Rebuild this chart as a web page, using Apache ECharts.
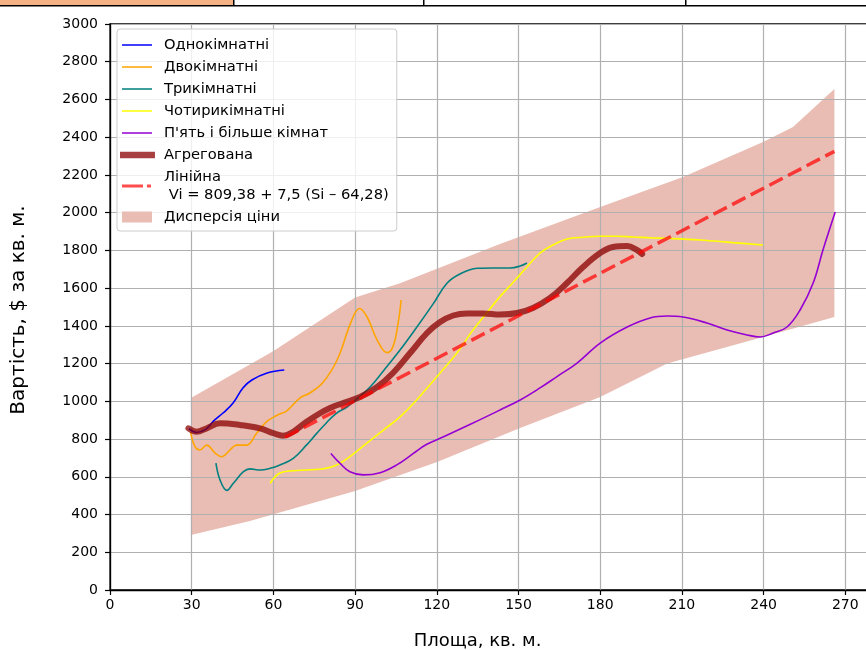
<!DOCTYPE html>
<html><head><meta charset="utf-8">
<script src="https://cdn.jsdelivr.net/npm/echarts@6/dist/echarts.min.js"></script>
<style>html,body{margin:0;padding:0;background:#fff}#chart{width:866px;height:650px}</style>
</head><body><div id="chart"></div>
<script>
// ---- data ----
const xTickValues = [0, 30, 60, 90, 120, 150, 180, 210, 240, 270];
const yTickValues = [0, 200, 400, 600, 800, 1000, 1200, 1400, 1600, 1800, 2000, 2200, 2400, 2600, 2800, 3000];

const oneArea  = [29, 31.8, 35, 38, 41.5, 45.2, 48.8, 52.1, 57.7, 64];
const onePrice = [855, 835, 850, 895, 938, 991, 1071, 1113, 1150, 1166];

const twoArea  = [29.6, 31.2, 33, 35.5, 38.6, 41, 44, 46.5, 50.2, 53.9, 57.5, 61.2, 64.9, 69.8, 73.4, 78.2, 83.4, 88.5, 91.6, 94.4, 98.1, 101.7, 103.9, 105.8, 106.9];
const twoPrice = [835, 760, 742, 768, 726, 706, 742, 768, 768, 832, 892, 925, 950, 1018, 1044, 1100, 1219, 1420, 1492, 1447, 1325, 1258, 1290, 1415, 1537];

const threeArea  = [38.9, 40.4, 42.9, 45.3, 49, 51.4, 55.1, 58.8, 62.4, 67.3, 72.2, 75.9, 79.6, 83, 87, 91.1, 95.5, 100.3, 106.5, 112.7, 118.6, 123.8, 128.5, 134.8, 140.7, 146.9, 150.6, 153.1];
const threePrice = [672, 583, 528, 566, 627, 642, 636, 645, 663, 698, 769, 830, 888, 935, 970, 1018, 1076, 1160, 1272, 1394, 1515, 1627, 1675, 1705, 1707, 1707, 1717, 1733];

const fourArea  = [58.8, 62.4, 67.2, 72.2, 77.1, 80.8, 84, 88.1, 94.3, 100.4, 106.5, 112.6, 121.2, 127.4, 133.3, 138.4, 143.2, 148, 153.1, 157.9, 162.7, 167.8, 173.7, 180, 186.2, 192.1, 199.4, 204.4, 216.7, 228.8, 239.8];
const fourPrice = [566, 620, 632, 636, 640, 650, 668, 707, 778, 848, 918, 1007, 1150, 1256, 1378, 1470, 1555, 1630, 1712, 1786, 1829, 1860, 1870, 1875, 1875, 1871, 1866, 1864, 1855, 1841, 1829];

const fiveArea  = [81.1, 84.5, 88.1, 93, 99.2, 105.3, 111.4, 116, 122.3, 133.3, 143.2, 150.6, 157.9, 164, 171.5, 180, 189.9, 198.3, 204.6, 210.4, 219.2, 226.6, 233.9, 238.7, 243.5, 248.6, 253.4, 258.2, 261.8, 266.3];
const fivePrice = [724, 671, 627, 610, 622, 663, 724, 770, 811, 885, 954, 1007, 1071, 1130, 1203, 1309, 1394, 1442, 1452, 1447, 1415, 1378, 1352, 1341, 1362, 1394, 1484, 1627, 1802, 2003];

const aggArea  = [28.8, 31.8, 35.5, 40.4, 47.7, 55.1, 60, 63.6, 67.3, 72.2, 77.1, 80.8, 85.6, 91.8, 98.1, 103.9, 110.2, 116.4, 121.2, 126, 131.1, 137, 143.2, 149.5, 155.3, 161.6, 167.8, 173.7, 180, 184.7, 189.9, 193.5, 195.4];
const aggPrice = [857, 839, 857, 884, 875, 857, 831, 818, 839, 892, 937, 965, 991, 1023, 1076, 1150, 1256, 1362, 1420, 1455, 1466, 1466, 1460, 1468, 1495, 1548, 1627, 1712, 1786, 1818, 1823, 1802, 1781];

const linearArea  = [64.28, 266];
const linearPrice = [809.38, 2325];

const bandUpperArea  = [29.7, 59.9, 90, 106.5, 143.2, 180, 210.4, 239.8, 250.8, 266];
const bandUpper      = [1018, 1265, 1550, 1626, 1834, 2030, 2189, 2375, 2454, 2655];
const bandLowerArea  = [29.7, 51.4, 90, 120.1, 150.6, 180, 204.6, 239.8, 266];
const bandLower      = [292, 366, 525, 678, 859, 1023, 1200, 1341, 1447];

const names = ['Однокімнатні', 'Двокімнатні', 'Трикімнатні', 'Чотирикімнатні', "П'ять і більше кімнат", 'Агрегована', 'Лінійна\n Vi = 809,38 + 7,5 (Si – 64,28)', 'Дисперсія ціни'];

// ---- styling ----
const FONT = 'DejaVu Sans';
const colors = ['#0000ff', '#ffa500', '#008080', '#ffff00', '#9400d3'];
const aggColor = 'rgba(139,0,0,0.75)';
const linColor = 'rgba(255,0,0,0.7)';
const bandColor = '#eabdb4';

function pairs(xs, ys) { return xs.map((x, i) => [x, ys[i]]); }

const pad = 'M0,0h0.01v0.01h-0.01Z M40,14h0.01v0.01h-0.01Z ';
const thinIcon = 'path://' + pad + 'M3,6.25h30v1.5h-30Z';
const aggIcon  = 'path://' + pad + 'M1,3.8h35v6.4h-35Z';
const linIcon  = 'path://' + pad + 'M3,5.5h21v3h-21Z M28,5.5h4v3h-4Z';
const bandIcon = 'path://' + pad + 'M3,1.5h30v11h-30Z';

const lineSeries = [
  [oneArea, onePrice], [twoArea, twoPrice], [threeArea, threePrice], [fourArea, fourPrice], [fiveArea, fivePrice]
].map((d, i) => ({
  name: names[i], type: 'line', data: pairs(d[0], d[1]), smooth: 0.4, showSymbol: false, symbol: 'none',
  lineStyle: { color: colors[i], width: 1.6 }, itemStyle: { color: colors[i] }, z: 3, silent: true
}));

const chart = echarts.init(document.getElementById('chart'), null, { renderer: 'canvas' });
chart.setOption({
  animation: false,
  backgroundColor: '#ffffff',
  textStyle: { fontFamily: FONT },
  grid: { left: 110, top: 24, bottom: 60, right: -61, outerBoundsMode: 'none', containLabel: false, show: true, borderColor: '#000', borderWidth: 1.3, backgroundColor: 'transparent', z: 1 },
  xAxis: {
    type: 'value', min: 0, max: 300, interval: 30, z: 1,
    name: 'Площа, кв. м.', nameLocation: 'middle', nameGap: 42,
    nameTextStyle: { fontSize: 18, color: '#000', fontFamily: FONT, padding: [0, 82, 0, 0] },
    axisLine: { show: true, onZero: false, lineStyle: { color: '#000', width: 1.3 } },
    axisTick: { show: true, length: 5, lineStyle: { color: '#000', width: 1.2 } },
    axisLabel: { fontSize: 14, color: '#000', margin: 8, fontFamily: FONT, formatter: v => String(v) },
    splitLine: { show: true, lineStyle: { color: '#b0b0b0', width: 1.2 } }
  },
  yAxis: {
    type: 'value', min: 0, max: 3000, interval: 200, z: 1,
    name: 'Вартість, $ за кв. м.', nameLocation: 'middle', nameGap: 81,
    nameTextStyle: { fontSize: 20, color: '#000', fontFamily: FONT, padding: [0, 6, 0, 0] },
    axisLine: { show: true, onZero: false, lineStyle: { color: '#000', width: 1.3 } },
    axisTick: { show: true, length: 5, lineStyle: { color: '#000', width: 1.2 } },
    axisLabel: { fontSize: 14, color: '#000', margin: 12, fontFamily: FONT, formatter: v => String(v) },
    splitLine: { show: true, lineStyle: { color: '#b0b0b0', width: 1.2 } }
  },
  legend: {
    left: 117, top: 29, orient: 'vertical', itemGap: 4, itemWidth: 40, itemHeight: 14,
    padding: [7, 8, 5, 2], backgroundColor: 'rgba(255,255,255,0.8)', borderColor: '#cccccc', borderWidth: 1, borderRadius: 3,
    textStyle: { fontSize: 14.7, color: '#000', fontFamily: FONT, lineHeight: 18 },
    itemStyle: { borderWidth: 0 }, selectedMode: false, z: 10,
    data: [
      { name: names[0], icon: thinIcon, itemStyle: { color: colors[0], borderWidth: 0 } },
      { name: names[1], icon: thinIcon, itemStyle: { color: colors[1], borderWidth: 0 } },
      { name: names[2], icon: thinIcon, itemStyle: { color: colors[2], borderWidth: 0 } },
      { name: names[3], icon: thinIcon, itemStyle: { color: colors[3], borderWidth: 0 } },
      { name: names[4], icon: thinIcon, itemStyle: { color: colors[4], borderWidth: 0 } },
      { name: names[5], icon: aggIcon, itemStyle: { color: aggColor, borderWidth: 0 } },
      { name: names[6], icon: linIcon, itemStyle: { color: linColor, borderWidth: 0 } },
      { name: names[7], icon: bandIcon, itemStyle: { color: bandColor, borderWidth: 0 } }
    ]
  },
  graphic: [
    { type: 'rect', left: 0, top: 0, shape: { width: 233, height: 5 }, style: { fill: '#f4b183' }, z: 20 },
    { type: 'rect', left: 0, top: 5, shape: { width: 866, height: 1.5 }, style: { fill: '#000' }, z: 20 },
    { type: 'rect', left: 233, top: 0, shape: { width: 1.5, height: 6 }, style: { fill: '#000' }, z: 20 },
    { type: 'rect', left: 423, top: 0, shape: { width: 1.5, height: 6 }, style: { fill: '#000' }, z: 20 },
    { type: 'rect', left: 685, top: 0, shape: { width: 1.5, height: 6 }, style: { fill: '#000' }, z: 20 }
  ],
  series: [
    {
      name: names[7], type: 'custom', z: -1, silent: true,
      data: [[bandUpperArea[0], bandUpper[0]]],
      itemStyle: { color: bandColor },
      renderItem: function (params, api) {
        const pts = [];
        for (let i = 0; i < bandUpperArea.length; i++) pts.push(api.coord([bandUpperArea[i], bandUpper[i]]));
        for (let i = bandLowerArea.length - 1; i >= 0; i--) pts.push(api.coord([bandLowerArea[i], bandLower[i]]));
        return { type: 'polygon', shape: { points: pts }, style: { fill: bandColor } };
      }
    },
    ...lineSeries,
    {
      name: names[5], type: 'line', data: pairs(aggArea, aggPrice), smooth: 0.4, showSymbol: false, symbol: 'none',
      lineStyle: { color: aggColor, width: 6, cap: 'round', join: 'round' }, itemStyle: { color: aggColor }, z: 4, silent: true
    },
    {
      name: names[6], type: 'line', data: pairs(linearArea, linearPrice), showSymbol: false, symbol: 'none',
      lineStyle: { color: linColor, width: 3.5, type: [15, 6] }, itemStyle: { color: linColor }, z: 5, silent: true
    }
  ]
});
</script></body></html>
